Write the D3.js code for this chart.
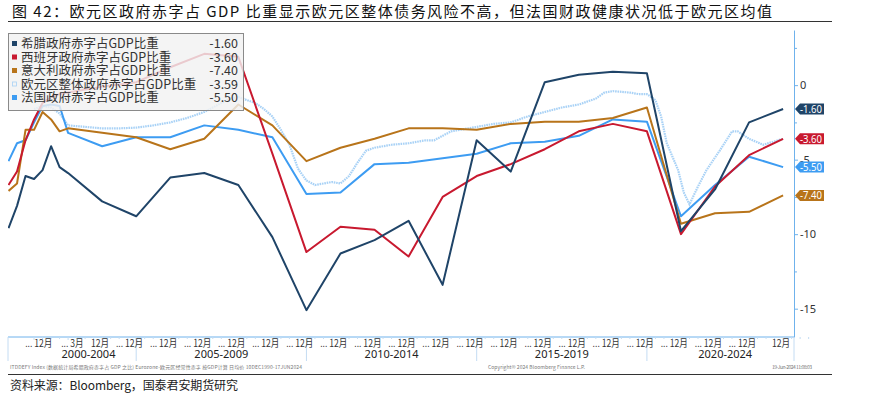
<!DOCTYPE html>
<html>
<head>
<meta charset="utf-8">
<script src="https://cdn.jsdelivr.net/npm/d3@7"></script>
<style>
  body { margin: 0; background: #fff; }
  svg { display: block; font-family: "Noto Sans CJK SC", "Noto Sans", sans-serif; }
</style>
</head>
<body>
<svg width="877" height="393"></svg>
<script>
// chart text
const title = "图 42：欧元区政府赤字占 GDP 比重显示欧元区整体债务风险不高，但法国财政健康状况低于欧元区均值";
const source = "资料来源：Bloomberg，国泰君安期货研究";

// dates of the country series (quarterly at first, then yearly)
const dates = ["2001-03","2001-06","2001-09","2001-12","2002-03","2002-06","2002-09","2002-12",
  "2003-12","2004-12","2005-12","2006-12","2007-12","2008-12","2009-12","2010-12","2011-12",
  "2012-12","2013-12","2014-12","2015-12","2016-12","2017-12","2018-12","2019-12","2020-12",
  "2021-12","2022-12","2023-12"];

const greece = [-9.6,-8.1,-6.1,-6.3,-5.7,-4.1,-5.5,-5.9,
  -7.8,-8.8,-6.2,-5.9,-6.7,-10.2,-15.1,-11.3,-10.4,-9.1,-13.4,-3.7,-5.8,0.2,0.7,0.9,0.8,-9.8,-7.0,-2.5,-1.6];
const spain = [-6.7,-5.8,-3.7,-2.3,-1.2,-0.8,-0.6,-0.5,
  -0.1,0.2,1.2,2.1,1.9,-4.6,-11.2,-9.5,-9.7,-11.5,-7.5,-6.1,-5.3,-4.3,-3.1,-2.6,-3.1,-10.0,-6.8,-4.7,-3.6];
const italy = [-7.1,-6.6,-3.0,-3.0,-1.8,-2.3,-3.1,-2.9,
  -3.2,-3.5,-4.3,-3.6,-1.3,-2.7,-5.1,-4.2,-3.6,-2.9,-2.9,-3.0,-2.6,-2.45,-2.45,-2.2,-1.5,-9.3,-8.6,-8.5,-7.4];
const france = [-5.1,-3.9,-3.7,-2.5,-1.4,-1.3,-1.4,-3.2,
  -4.1,-3.5,-3.5,-2.7,-3.0,-3.5,-7.3,-7.2,-5.3,-5.2,-4.9,-4.6,-3.9,-3.8,-3.4,-2.3,-2.45,-8.8,-6.7,-4.8,-5.5];

// euro area series (denser, rolling)
const euroDates = ["2001-12","2002-03","2002-06","2002-09","2002-12","2003-06","2003-12","2004-06","2004-12",
  "2005-06","2005-12","2006-06","2006-12","2007-06","2007-09","2007-12","2008-06","2008-09","2008-12",
  "2009-03","2009-06","2009-09","2009-12","2010-03","2010-06","2010-09","2010-12","2011-03","2011-06",
  "2011-09","2011-12","2012-06","2012-12","2013-06","2013-09","2014-03","2014-12","2015-06","2015-12",
  "2016-06","2016-12","2017-06","2017-12","2018-06","2018-09","2018-12","2019-03","2019-06","2019-09",
  "2019-12","2020-03","2020-05","2020-07","2020-11","2021-01","2021-03","2021-06","2021-09","2022-02",
  "2022-06","2022-08","2022-12","2023-05","2023-12"];
const euro = [-1.6,-1.4,-1.5,-1.9,-2.7,-2.8,-2.9,-2.9,-2.85,
  -2.7,-2.5,-2.2,-1.8,-1.2,-0.9,-0.8,-1.2,-1.6,-2.1,
  -3.0,-4.0,-5.6,-6.4,-6.7,-6.6,-6.5,-6.6,-6.1,-5.2,
  -4.4,-4.2,-4.0,-3.9,-3.7,-3.7,-3.1,-2.8,-2.6,-2.5,
  -2.1,-1.8,-1.5,-1.3,-0.9,-0.5,-0.4,-0.45,-0.5,-0.6,
  -0.6,-1.0,-2.1,-3.9,-5.7,-7.2,-8.0,-6.8,-5.7,-4.3,
  -3.1,-3.1,-3.6,-4.0,-3.6];

// legend
const legendNames = ["希腊政府赤字占GDP比重","西班牙政府赤字占GDP比重","意大利政府赤字占GDP比重","欧元区整体政府赤字占GDP比重","法国政府赤字占GDP比重"];
const legendValues = ["-1.60","-3.60","-7.40","-3.59","-5.50"];
const colors = ["#1f4468","#c8192f","#b8741a","#a9d2f6","#3d9cf2"];

// x axis labels
const tickDates = ["2002-04","2003-03","2003-12","2004-12","2005-12","2006-12","2007-12","2008-12","2009-12",
  "2010-12","2011-12","2012-12","2013-12","2014-12","2015-12","2016-12","2017-12","2018-12","2019-12",
  "2020-12","2021-12","2022-12","2023-12"];
const tickLabels = ["... 12月","... 3月","12月","... 12月","... 12月","... 12月","... 12月","... 12月","... 12月",
  "... 12月","... 12月","... 12月","... 12月","... 12月","... 12月","... 12月","... 12月","... 12月","... 12月",
  "... 12月","... 12月","... 12月","12月"];
const groupLabels = ["2000-2004","2005-2009","2010-2014","2015-2019","2020-2024"];
const groupCenters = [2003.6, 2007.5, 2012.5, 2017.5, 2022.3];
const groupEdges = [2005, 2010, 2015, 2020];

const yTicks = [0, -5, -10, -15];
const yMinor = [2.5, -2.5, -7.5, -12.5];

const toT = s => { const p = s.split("-").map(Number); return p[0] + p[1] / 12; };

const svg = d3.select("svg");
const plotLeft = 8, plotRight = 794, plotTop = 30, plotBottom = 337;

const x = d3.scaleLinear().domain([2001.235, 2024.32]).range([plotLeft, plotRight]);
const y = d3.scaleLinear().domain([-16.9, 3.7]).range([plotBottom, plotTop]);

// title
svg.append("text")
  .attr("x", 12).attr("y", 17)
  .attr("textLength", 760).attr("lengthAdjust", "spacing")
  .style("font-size", "15px").style("fill", "#111")
  .text(title);
svg.append("line").attr("x1", 8).attr("x2", 832).attr("y1", 21.5).attr("y2", 21.5)
  .style("stroke", "#333").style("stroke-width", 1);

// clip
svg.append("clipPath").attr("id", "clip")
  .append("rect").attr("x", plotLeft).attr("y", plotTop).attr("width", plotRight - plotLeft).attr("height", plotBottom - plotTop);

const line = d3.line().x(d => x(d[0])).y(d => y(d[1]));
const plot = svg.append("g").attr("clip-path", "url(#clip)");

// euro area dotted light line
plot.append("path")
  .datum(euroDates.map((d, i) => [toT(d), euro[i]]))
  .attr("d", line)
  .style("fill", "none").style("stroke", colors[3]).style("stroke-width", 2.2)
  .style("stroke-dasharray", "1.6 0.8");

const series = [[france, colors[4]], [italy, colors[2]], [spain, colors[1]], [greece, colors[0]]];
series.forEach(s => {
  plot.append("path")
    .datum(dates.map((d, i) => [toT(d), s[0][i]]))
    .attr("d", line)
    .style("fill", "none").style("stroke", s[1]).style("stroke-width", 2)
    .style("stroke-linejoin", "round");
});

// legend box (semi transparent)
const lg = svg.append("g");
lg.append("rect").attr("x", 8.5).attr("y", 33.5).attr("width", 235).attr("height", 77)
  .style("fill", "rgba(242,242,242,0.82)").style("stroke", "#8a8a8a");
legendNames.forEach((n, i) => {
  const cy = 43.5 + i * 13.5;
  if (i === 3) {
    lg.append("rect").attr("x", 12.5).attr("y", cy - 2).attr("width", 4).attr("height", 4)
      .style("fill", "none").style("stroke", colors[3]).style("stroke-width", 0.8);
  } else {
    lg.append("rect").attr("x", 12).attr("y", cy - 2.5).attr("width", 5).attr("height", 5)
      .style("fill", colors[i]);
  }
  lg.append("text").attr("x", 21).attr("y", cy + 4.5)
    .style("font-size", "12.5px").style("fill", "#333").text(n);
  lg.append("text").attr("x", 238).attr("y", cy + 4.5).attr("text-anchor", "end")
    .style("font-size", "12.5px").style("fill", "#333").text(legendValues[i]);
});

// right axis
const axisColor = "#6fb2ec";
const ay = svg.append("g").attr("transform", `translate(${plotRight},0)`)
  .call(d3.axisRight(y).tickValues(yTicks).tickSize(4).tickSizeOuter(0).tickPadding(2).tickFormat(d => String(d)));
ay.select(".domain").style("stroke", axisColor);
ay.selectAll(".tick line").style("stroke", axisColor);
ay.selectAll("text").style("font-size", "11px").style("fill", "#333").style("font-family", "'Noto Sans', sans-serif");
const am = svg.append("g").attr("transform", `translate(${plotRight},0)`)
  .call(d3.axisRight(y).tickValues(yMinor).tickSize(3).tickSizeOuter(0).tickFormat(""));
am.select(".domain").remove();
am.selectAll(".tick line").style("stroke", axisColor);

// last value tags
const tags = [[greece, colors[0]], [spain, colors[1]], [france, colors[4]], [italy, colors[2]]];
tags.forEach(t => {
  const v = t[0][t[0].length - 1];
  const yy = y(v);
  svg.append("path")
    .attr("d", `M${plotRight + 1},${yy} L${plotRight + 6},${yy - 5.5} L${plotRight + 30},${yy - 5.5} L${plotRight + 30},${yy + 5.5} L${plotRight + 6},${yy + 5.5} Z`)
    .style("fill", t[1]);
  svg.append("text").attr("x", plotRight + 6).attr("y", yy + 4)
    .attr("textLength", 22).attr("lengthAdjust", "spacingAndGlyphs")
    .style("font-size", "11px").style("fill", "#fff").style("font-family", "'Noto Sans', sans-serif")
    .text(v.toFixed(2));
});

// bottom axis
const sepColor = "#c4dcf3";
svg.append("line").attr("x1", plotLeft).attr("x2", plotRight).attr("y1", plotBottom).attr("y2", plotBottom)
  .style("stroke", axisColor);
[x.domain()[0], ...groupEdges, x.domain()[1]].forEach(t => {
  svg.append("line").attr("x1", x(t)).attr("x2", x(t)).attr("y1", plotBottom).attr("y2", 361)
    .style("stroke", sepColor);
});
d3.range(2002, 2025, 0.25).forEach(t => {
  svg.append("line").attr("x1", x(t)).attr("x2", x(t)).attr("y1", plotBottom).attr("y2", plotBottom + (t % 1 === 0 ? 3 : 2))
    .style("stroke", sepColor);
});
tickDates.forEach((d, i) => {
  svg.append("text").attr("x", x(toT(d)) + 7).attr("y", 347).attr("text-anchor", "end")
    .style("font-size", "10px").style("fill", "#333").text(tickLabels[i])
    .each(function () {
      const w = this.getComputedTextLength();
      d3.select(this).attr("textLength", w * 0.86).attr("lengthAdjust", "spacingAndGlyphs");
    });
});
groupLabels.forEach((g, i) => {
  svg.append("text").attr("x", x(groupCenters[i])).attr("y", 358).attr("text-anchor", "middle")
    .style("font-size", "11px").style("fill", "#222").style("font-family", "'Noto Sans', sans-serif")
    .text(g);
});

// bloomberg fine print
svg.append("text").attr("x", 10).attr("y", 369).attr("textLength", 292)
  .style("font-size", "5px").style("fill", "#777")
  .text("ITDDEFY Index (数据统计局希腊政府赤字占 GDP 之比) Eurozone-欧元区经常性赤字 按GDP计算 日均价 10DEC1990-17JUN2024");
svg.append("text").attr("x", 488).attr("y", 369).attr("textLength", 97)
  .style("font-size", "5px").style("fill", "#777").text("Copyright© 2024 Bloomberg Finance L.P.");
svg.append("text").attr("x", 772).attr("y", 369).attr("textLength", 40)
  .style("font-size", "5px").style("fill", "#777").text("19-Jun-2024 11:08:03");

// source
svg.append("line").attr("x1", 8).attr("x2", 832).attr("y1", 374.5).attr("y2", 374.5)
  .style("stroke", "#333").style("stroke-width", 1);
svg.append("text").attr("x", 10).attr("y", 390).attr("textLength", 228)
  .style("font-size", "12px").style("fill", "#222").text(source);
</script>
</body>
</html>
